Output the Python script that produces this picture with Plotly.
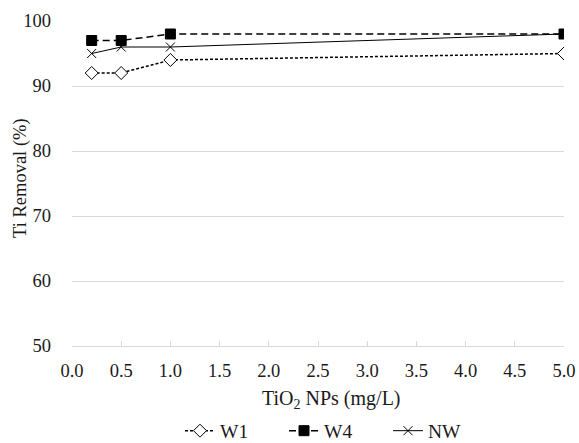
import plotly.graph_objects as go

x_vals = [0.2, 0.5, 1.0, 5.0]
w1 = [92, 92, 94, 95]
w4 = [97, 97, 98, 98]
nw = [95, 96, 96, 98]

font_family = "Liberation Serif"

fig = go.Figure()
fig.add_trace(go.Scatter(
    x=x_vals, y=w1, name="W1", mode="lines+markers",
    line=dict(color="black", width=1.5, dash="3px,2px"),
    marker=dict(symbol="diamond", size=10, color="white", line=dict(color="black", width=1)),
))
fig.add_trace(go.Scatter(
    x=x_vals, y=w4, name="W4", mode="lines+markers",
    line=dict(color="black", width=1.5, dash="7px,4px"),
    marker=dict(symbol="square", size=10, color="black", line=dict(color="black", width=1)),
))
fig.add_trace(go.Scatter(
    x=x_vals, y=nw, name="NW", mode="lines+markers",
    line=dict(color="black", width=1),
    marker=dict(symbol="x-thin-open", size=9, color="black", line=dict(color="black", width=1)),
))

fig.update_layout(
    width=579, height=443,
    margin=dict(l=72, r=15, t=21, b=97, autoexpand=False),
    paper_bgcolor="white", plot_bgcolor="white",
    font=dict(family=font_family, size=18.5, color="#1a1a1a"),
    showlegend=True,
    legend=dict(orientation="h", x=180 / 579, xanchor="left", xref="container",
                y=12 / 443, yanchor="middle", yref="container",
                font=dict(size=19.5), itemwidth=30, entrywidth=59, entrywidthmode="pixels",
                tracegroupgap=0),
)
fig.update_xaxes(
    range=[0, 5], dtick=0.5, tickformat=".1f",
    showgrid=False, showline=True, linecolor="#d9d9d9", linewidth=1,
    ticks="inside", ticklen=5, tickcolor="#d9d9d9",
    ticklabelstandoff=8,
    zeroline=False,
)
fig.update_yaxes(
    range=[50, 100], dtick=10,
    showgrid=True, gridcolor="#d9d9d9", gridwidth=1,
    showline=False, zeroline=False, ticks="",
    ticklabelstandoff=20,
)
fig.add_annotation(
    text="TiO<sub>2</sub> NPs (mg/L)", xref="paper", yref="paper",
    x=0.528, y=-0.166, xanchor="center", yanchor="middle",
    showarrow=False, font=dict(size=20),
)
fig.add_annotation(
    text="Ti Removal (%)", xref="paper", yref="paper", textangle=-90,
    x=-0.1037, y=0.517, xanchor="center", yanchor="middle",
    showarrow=False, font=dict(size=18.5),
)

fig.write_html("out.html")
